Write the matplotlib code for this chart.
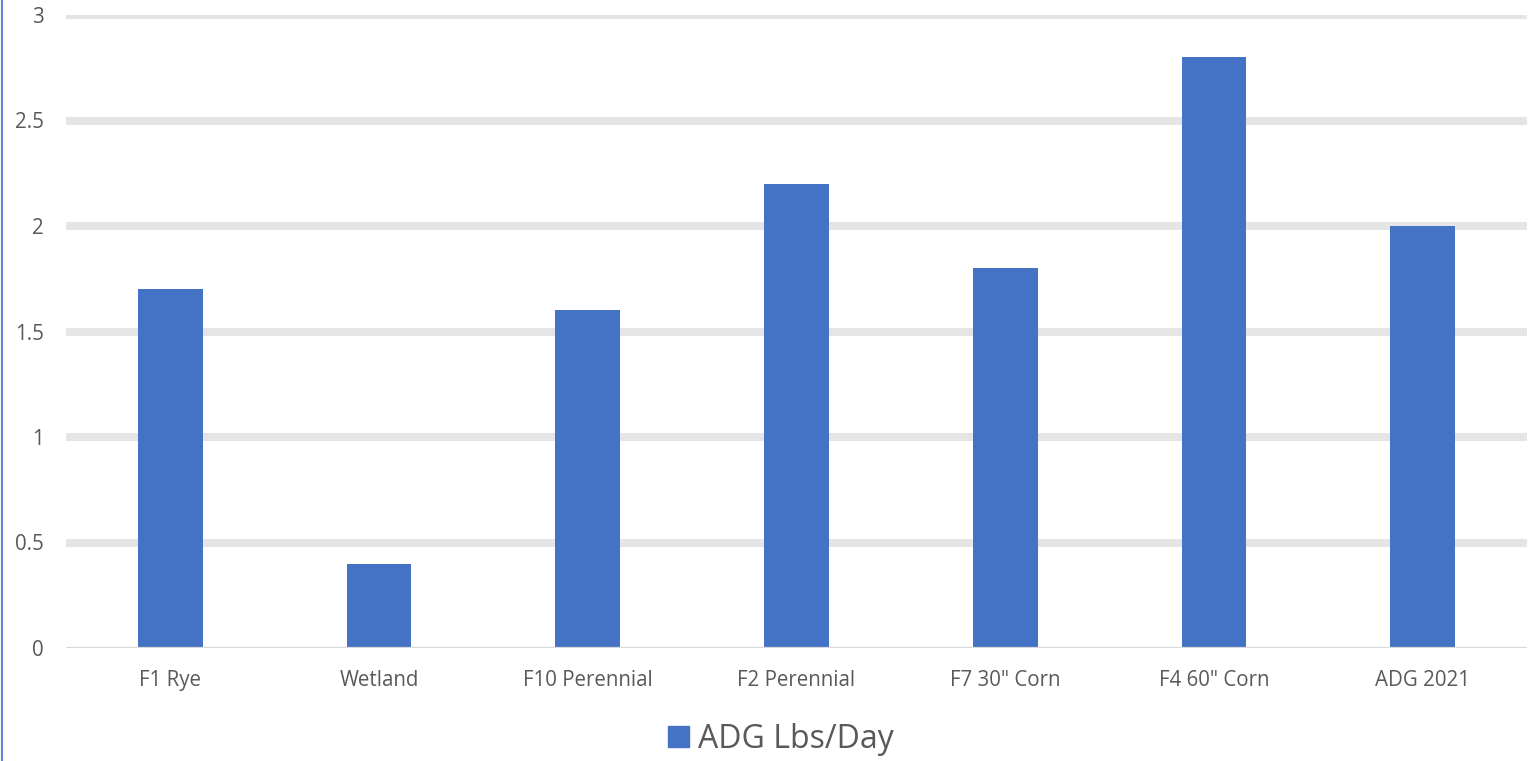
import matplotlib.pyplot as plt
import matplotlib.lines as mlines
import matplotlib.patches as mpatches

# Data
categories = ['F1 Rye', 'Wetland', 'F10 Perennial', 'F2 Perennial',
              'F7 30" Corn', 'F4 60" Corn', 'ADG 2021']
adg = [1.7, 0.4, 1.6, 2.2, 1.8, 2.8, 2.0]
yticks = [0, 0.5, 1, 1.5, 2, 2.5, 3]
ytick_labels = ['0', '0.5', '1', '1.5', '2', '2.5', '3']
series_name = 'ADG Lbs/Day'

plt.rcParams['font.family'] = ['Open Sans', 'DejaVu Sans']

bar_color = '#4472C4'
text_color = '#595959'

fig = plt.figure(figsize=(15.3, 7.61), dpi=100)
ax = fig.add_axes([66 / 1530, 1 - 648 / 761, (1527 - 66) / 1530, (648 - 15) / 761])

x = range(len(categories))
ax.bar(x, adg, width=0.31, color=bar_color, zorder=3)

ax.set_xlim(-0.5, len(categories) - 0.5)
ax.set_ylim(0, 3)
ax.set_yticks(yticks)
ax.set_yticklabels(ytick_labels)
ax.set_xticks(list(x))
ax.set_xticklabels(categories)

# thick light gridlines, thin zero line
for t in yticks[1:]:
    ax.axhline(t, color='#e5e5e5', linewidth=5.8, zorder=1)
ax.axhline(0, color='#d9d9d9', linewidth=1.6, zorder=4)

for s in ax.spines.values():
    s.set_visible(False)
ax.tick_params(axis='both', length=0, labelsize=14.8, colors=text_color)
ax.tick_params(axis='y', pad=16)
ax.tick_params(axis='x', pad=15.5)
ax.patch.set_visible(False)

# legend below the plot
handle = mpatches.Patch(color=bar_color, label=series_name)
leg = fig.legend(handles=[handle], loc='center',
                 bbox_to_anchor=(781 / 1530, 1 - 739 / 761),
                 frameon=False, fontsize=23, handlelength=0.65,
                 handleheight=0.65, handletextpad=0.3)
for t in leg.get_texts():
    t.set_color(text_color)

# thin blue edge on the left
fig.add_artist(mlines.Line2D([1.5 / 1530, 1.5 / 1530], [0, 1],
                             transform=fig.transFigure, color='#5b8bd8',
                             linewidth=1.5))

fig.savefig('out.png', dpi=100)
